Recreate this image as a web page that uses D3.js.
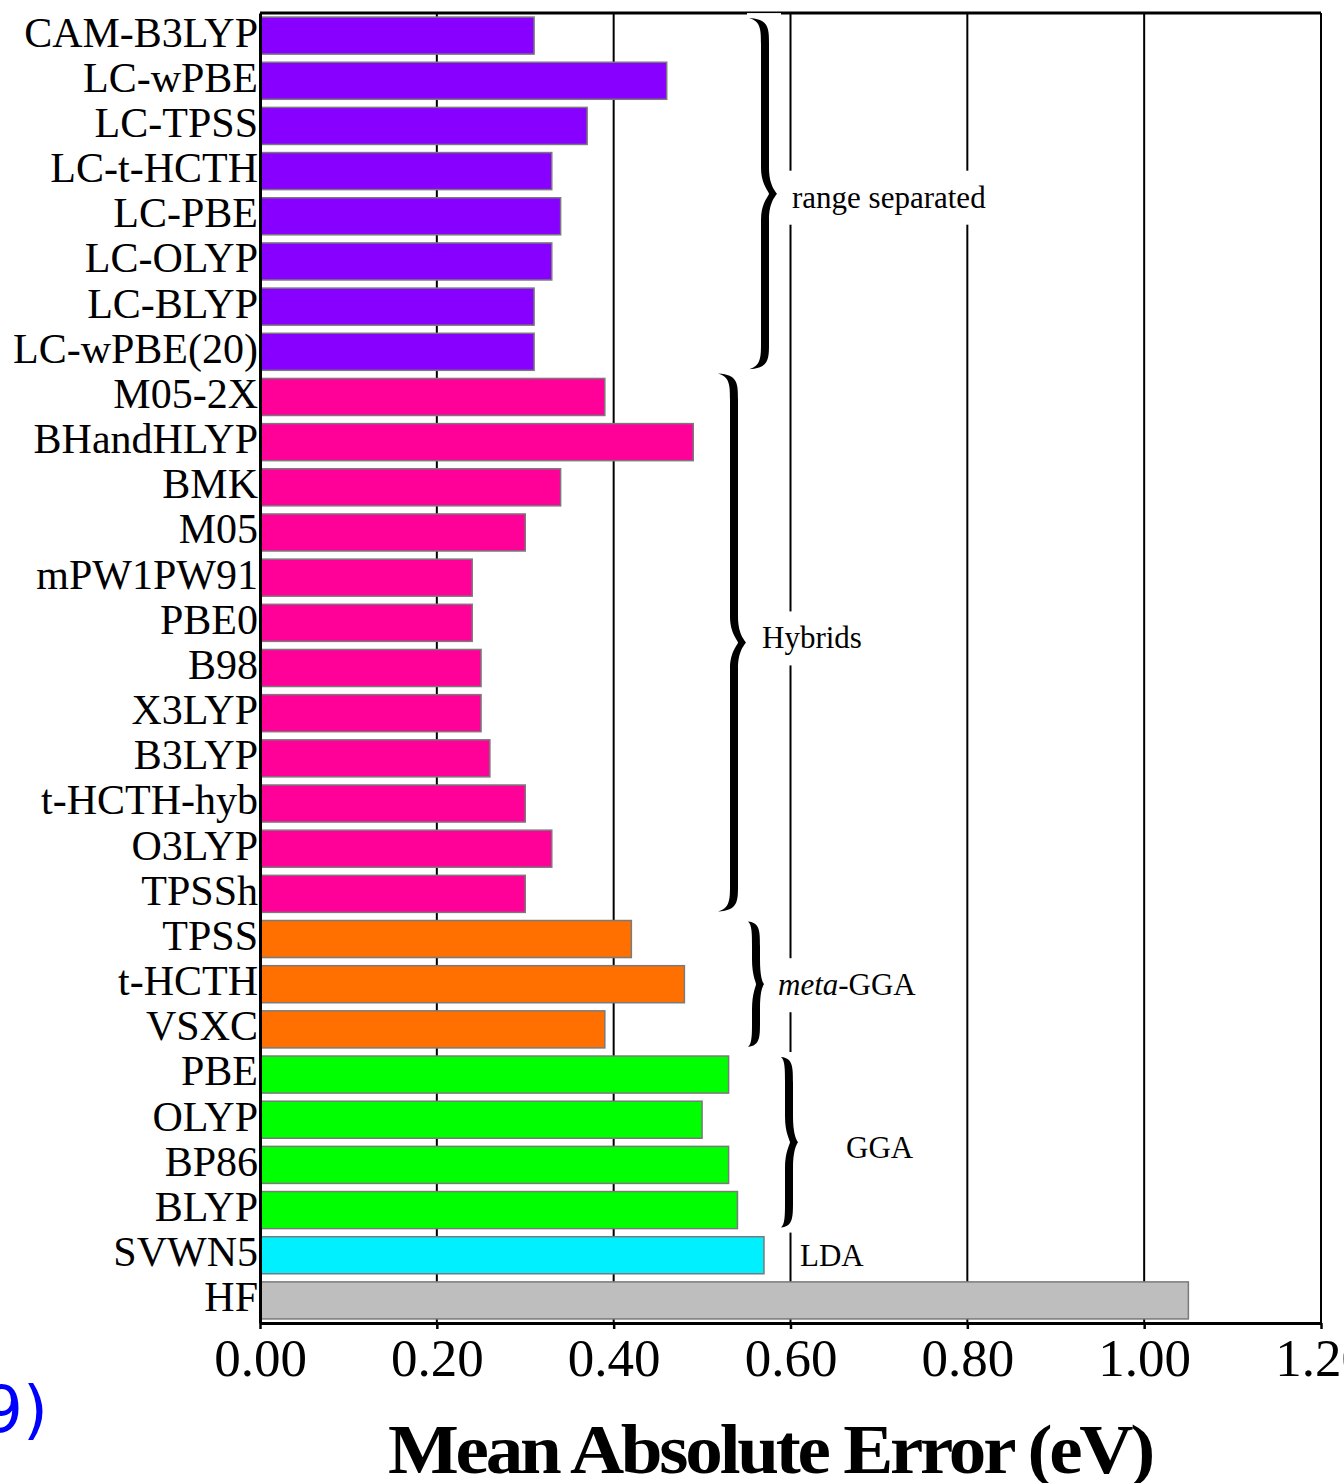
<!DOCTYPE html>
<html>
<head>
<meta charset="utf-8">
<script src="https://cdn.jsdelivr.net/npm/d3@7/dist/d3.min.js"></script>
<style>
  html, body { margin: 0; padding: 0; background: #fff; overflow: hidden; }
  svg { display: block; }
</style>
</head>
<body>
<svg id="chart" width="1344" height="1483"></svg>
<script>
// Mean absolute error (eV) of each functional, top to bottom
const methods = [
  "CAM-B3LYP", "LC-wPBE", "LC-TPSS", "LC-t-HCTH", "LC-PBE", "LC-OLYP", "LC-BLYP", "LC-wPBE(20)",
  "M05-2X", "BHandHLYP", "BMK", "M05", "mPW1PW91", "PBE0", "B98", "X3LYP", "B3LYP",
  "t-HCTH-hyb", "O3LYP", "TPSSh",
  "TPSS", "t-HCTH", "VSXC",
  "PBE", "OLYP", "BP86", "BLYP",
  "SVWN5",
  "HF"
];
const mae = [
  0.31, 0.46, 0.37, 0.33, 0.34, 0.33, 0.31, 0.31,
  0.39, 0.49, 0.34, 0.30, 0.24, 0.24, 0.25, 0.25, 0.26,
  0.30, 0.33, 0.30,
  0.42, 0.48, 0.39,
  0.53, 0.50, 0.53, 0.54,
  0.57,
  1.05
];
const family = [
  "rs", "rs", "rs", "rs", "rs", "rs", "rs", "rs",
  "hyb", "hyb", "hyb", "hyb", "hyb", "hyb", "hyb", "hyb", "hyb",
  "hyb", "hyb", "hyb",
  "mgga", "mgga", "mgga",
  "gga", "gga", "gga", "gga",
  "lda",
  "hf"
];
const xTicks = [0, 0.2, 0.4, 0.6, 0.8, 1.0, 1.2];

// Functional families: label, first and last member
const groups = [
  { key: "rs",   label: "range separated", first: "CAM-B3LYP", last: "LC-wPBE(20)", brace: true },
  { key: "hyb",  label: "Hybrids",         first: "M05-2X",    last: "TPSSh",       brace: true },
  { key: "mgga", label: "meta-GGA",        first: "TPSS",      last: "VSXC",        brace: true, italicPrefix: "meta" },
  { key: "gga",  label: "GGA",             first: "PBE",       last: "BLYP",        brace: true },
  { key: "lda",  label: "LDA",             first: "SVWN5",     last: "SVWN5",       brace: false }
];

// ---- styling / layout ----
const colors = {
  rs: "#8800ff", hyb: "#ff0099", mgga: "#ff7000",
  gga: "#00ff00", lda: "#00f0ff", hf: "#bebebe"
};
// horizontal placement of braces (end x, stem x, tip x), label x and vertical nudge
const braceLayout = {
  rs:   { x0: 749, xv: 765, xt: 777, labelX: 792, dy: 4 },
  hyb:  { x0: 718, xv: 734, xt: 746, labelX: 762, dy: -7, top: -6 },
  mgga: { x0: 748, xv: 756, xt: 764, labelX: 778, dy: 1 },
  gga:  { x0: 781, xv: 789, xt: 798, labelX: 846, dy: 6 },
  lda:  { labelX: 800, dy: 1 }
};

const serif = "'Liberation Serif', 'Times New Roman', serif";
const plot = { left: 260, right: 1321, top: 13, bottom: 1323 };

const svg = d3.select("#chart");

const x = d3.scaleLinear().domain([0, 1.2]).range([plot.left, plot.right]);
const y = d3.scaleBand().domain(methods).range([plot.top, plot.bottom])
  .paddingInner(0.18).paddingOuter(0.09);

const rows = methods.map((m, i) => ({ name: m, value: mae[i], fam: family[i] }));

// vertical grid lines
svg.append("g").selectAll("line").data(xTicks.filter(d => d > 0)).join("line")
  .attr("x1", d => x(d)).attr("x2", d => x(d))
  .attr("y1", plot.top).attr("y2", plot.bottom)
  .attr("stroke", "#000").attr("stroke-width", 2);

// bars
svg.append("g").selectAll("rect").data(rows).join("rect")
  .attr("x", x(0))
  .attr("y", d => y(d.name))
  .attr("width", d => x(d.value) - x(0))
  .attr("height", y.bandwidth())
  .attr("fill", d => colors[d.fam])
  .attr("stroke", "#7a7a7a")
  .attr("stroke-width", 1.5);

// frame: top border
svg.append("line")
  .attr("x1", plot.left).attr("x2", plot.right)
  .attr("y1", plot.top).attr("y2", plot.top)
  .attr("stroke", "#000").attr("stroke-width", 3);

// x axis
const xAxis = svg.append("g")
  .attr("transform", `translate(0,${plot.bottom})`)
  .call(d3.axisBottom(x).tickValues(xTicks).tickFormat(d3.format(".2f"))
    .tickSize(6).tickPadding(9).tickSizeOuter(0));
xAxis.select(".domain").attr("stroke", "#000").attr("stroke-width", 3);
xAxis.selectAll(".tick line").attr("stroke", "#000").attr("stroke-width", 2.5);
xAxis.selectAll(".tick text")
  .attr("font-family", serif).attr("font-size", 53).attr("fill", "#000");

// y axis
const yAxis = svg.append("g")
  .attr("transform", `translate(${plot.left},0)`)
  .call(d3.axisLeft(y).tickSize(0).tickPadding(2).tickSizeOuter(0));
yAxis.select(".domain").attr("stroke", "#000").attr("stroke-width", 3);
yAxis.selectAll(".tick text")
  .attr("font-family", serif).attr("font-size", 42).attr("fill", "#000")
  .attr("dy", "0.26em");

// axis title
svg.append("text")
  .attr("x", 770).attr("y", 1473)
  .attr("text-anchor", "middle")
  .attr("font-family", serif).attr("font-weight", "bold").attr("font-size", 70)
  .attr("textLength", 764).attr("lengthAdjust", "spacingAndGlyphs")
  .attr("letter-spacing", -3)
  .text("Mean Absolute Error (eV)");

// partial caption text at the lower left edge
svg.append("text")
  .attr("x", 48).attr("y", 1432)
  .attr("text-anchor", "end")
  .attr("font-family", "'DejaVu Sans', sans-serif").attr("font-size", 64)
  .attr("fill", "#0000ff")
  .text("9)");

// curly brace (opening to the left, pointing right) as a filled outline
function bracePath(x0, xv, xt, y0, y1, t) {
  const ym = (y0 + y1) / 2;
  const r = Math.min(26, (y1 - y0) / 5);
  const h = t / 2;
  return [
    `M${x0},${y0}`,
    `C${xv + h},${y0 + 1} ${xv + h},${y0 + r * 0.4} ${xv + h},${y0 + r}`,
    `L${xv + h},${ym - r}`,
    `C${xv + h},${ym - r * 0.35} ${xt - 2},${ym - 3} ${xt},${ym}`,
    `C${xt - 2},${ym + 3} ${xv + h},${ym + r * 0.35} ${xv + h},${ym + r}`,
    `L${xv + h},${y1 - r}`,
    `C${xv + h},${y1 - r * 0.4} ${xv + h},${y1 - 1} ${x0},${y1}`,
    `C${xv - h},${y1 - 3} ${xv - h},${y1 - r * 0.5} ${xv - h},${y1 - r}`,
    `L${xv - h},${ym + r}`,
    `C${xv - h},${ym + r * 0.35} ${xt - t},${ym + 2} ${xt - t},${ym}`,
    `C${xt - t},${ym - 2} ${xv - h},${ym - r * 0.35} ${xv - h},${ym - r}`,
    `L${xv - h},${y0 + r}`,
    `C${xv - h},${y0 + r * 0.5} ${xv - h},${y0 + 3} ${x0},${y0}`,
    "Z"
  ].join(" ");
}

const ann = svg.append("g");
groups.forEach(g => {
  const L = braceLayout[g.key];
  const y0 = y(g.first) + 1 + (L.top || 0);
  const y1 = y(g.last) + y.bandwidth() - 1;
  const ym = (y(g.first) + y(g.last) + y.bandwidth()) / 2 + L.dy;

  if (g.brace) {
    ann.append("rect")
      .attr("x", L.x0 - 2).attr("y", y0 - 5)
      .attr("width", L.xt - L.x0 + 6).attr("height", y1 - y0 + 10)
      .attr("fill", "#fff");
    ann.append("path")
      .attr("d", bracePath(L.x0, L.xv, L.xt, y0, y1, 8))
      .attr("fill", "#000");
  }

  const bg = ann.append("rect").attr("fill", "#fff");
  const t = ann.append("text")
    .attr("x", L.labelX).attr("y", ym + 10)
    .attr("font-family", serif).attr("font-size", 31).attr("fill", "#000");
  if (g.italicPrefix) {
    t.append("tspan").attr("font-style", "italic").text(g.italicPrefix);
    t.append("tspan").text(g.label.slice(g.italicPrefix.length));
  } else {
    t.text(g.label);
  }
  if (g.brace) {
    const b = t.node().getBBox();
    bg.attr("x", b.x - 4).attr("y", ym - 27)
      .attr("width", b.width + 8).attr("height", 54);
  } else {
    bg.remove();
  }
});
</script>
</body>
</html>
